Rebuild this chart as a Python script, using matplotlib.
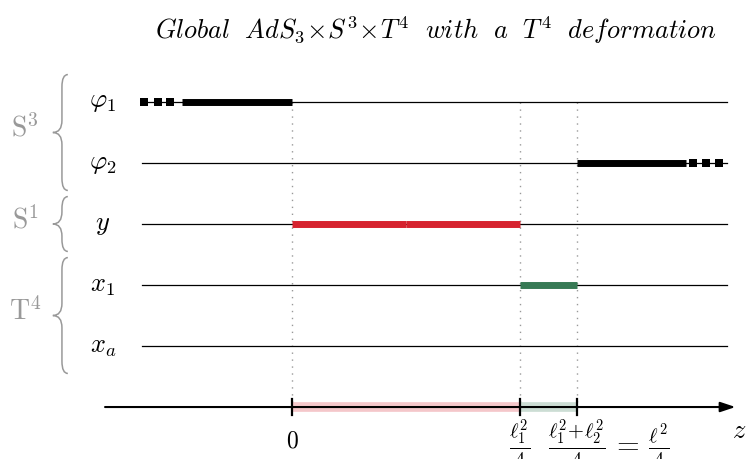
import numpy as np
import matplotlib.pyplot as plt
from matplotlib.path import Path
from matplotlib.patches import PathPatch

plt.rcParams['mathtext.fontset'] = 'cm'
plt.rcParams['font.family'] = 'DejaVu Serif'

# rows (top to bottom) and their field labels
fields = [r'$\varphi_1$', r'$\varphi_2$', r'$y$', r'$x_1$', r'$x_a$']
rows = [0, 1, 2, 3, 4]
axis_row = 5

# z positions of the brane boundaries
z_marks = [0.0, 1.0, 1.25]
z_labels = [r'$0$', r'$\frac{\ell_1^2}{4}$',
            r'$\frac{\ell_1^2\!+\!\ell_2^2}{4}\,=\,\frac{\ell^2}{4}$']
z_line = [-0.66, 1.91]

# thick segments: (row, z_start, z_end, colour)
segments = [
    (0, -0.482, 0.0, 'black'),
    (1, 1.25, 1.727, 'black'),
    (2, 0.0, 0.5, '#d6232f'),
    (2, 0.5, 1.0, '#d6232f'),
    (3, 1.0, 1.25, '#377a55'),
]
# square dots continuing the black segments: (row, z centres)
dots = [(0, [-0.647, -0.588, -0.533]), (1, [1.760, 1.816, 1.873])]

# groups: (label, first row, last row)
groups = [(r'$\mathrm{S}^3$', 0, 1), (r'$\mathrm{S}^1$', 2, 2), (r'$\mathrm{T}^4$', 3, 4)]

fig = plt.figure(figsize=(7.5, 4.59), dpi=100)
ax = fig.add_axes([0, 0, 1, 1])
ax.set_xlim(-1.2807, 2.0088)
ax.set_ylim(5.852, -1.672)
ax.axis('off')

# thin base lines
for r, lab in zip(rows, fields):
    ax.plot(z_line, [r, r], color='black', lw=0.9, zorder=2)
    ax.text(-0.83, r, lab, fontsize=19, ha='center', va='center')

# vertical dotted guides
for zm in z_marks:
    ax.plot([zm, zm], [0, axis_row], color='#999999', lw=1.0,
            linestyle=(0, (1, 4)), zorder=1)

# thick segments
for r, a, b, c in segments:
    ax.plot([a, b], [r, r], color=c, lw=5, solid_capstyle='butt', zorder=3)
for r, zs in dots:
    ax.plot(zs, [r] * len(zs), linestyle='none', marker='s', markersize=5.2,
            color='black', markeredgewidth=0, zorder=3)

# z axis with arrow
ax.annotate('', xy=(1.945, axis_row), xytext=(-0.82, axis_row),
            arrowprops=dict(arrowstyle='-|>,head_length=0.9,head_width=0.3',
                            color='black', lw=1.5, shrinkA=0, shrinkB=0))
ax.plot([0, 1], [axis_row, axis_row], color='#d6232f', lw=7, alpha=0.25,
        solid_capstyle='butt', zorder=1)
ax.plot([1, 1.25], [axis_row, axis_row], color='#377a55', lw=7, alpha=0.25,
        solid_capstyle='butt', zorder=1)
for zm in z_marks:
    ax.plot([zm, zm], [axis_row - 0.13, axis_row + 0.13], color='black', lw=1.6)
ax.text(0, axis_row + 0.56, z_labels[0], fontsize=17, ha='center', va='center')
ax.text(1.0, axis_row + 0.17, z_labels[1], fontsize=21, ha='center', va='top')
ax.text(1.39, axis_row + 0.17, z_labels[2], fontsize=21, ha='center', va='top')
ax.text(1.96, axis_row + 0.38, r'$z$', fontsize=19, ha='center', va='center')

# title
ax.text(0.63, -1.17, r'$Global\ \ AdS_3\!\times\! S^3\!\times\! T^4\ \ with\ \ a\ \ T^4\ \ deformation$',
        fontsize=19, ha='center', va='center')


def brace(ax, x, y0, y1, w_tip, w_end, h, color):
    # left-pointing curly brace between y0 (top) and y1 (bottom)
    ym = (y0 + y1) / 2
    verts = [
        (x + w_end, y0), (x, y0), (x, y0 + h),
        (x, ym - h), (x, ym), (x - w_tip, ym),
        (x, ym), (x, ym + h),
        (x, y1 - h), (x, y1), (x + w_end, y1),
    ]
    codes = [Path.MOVETO, Path.CURVE3, Path.CURVE3,
             Path.LINETO, Path.CURVE3, Path.CURVE3,
             Path.CURVE3, Path.CURVE3,
             Path.LINETO, Path.CURVE3, Path.CURVE3]
    ax.add_patch(PathPatch(Path(verts, codes), fill=False, edgecolor=color, lw=1.1))


for lab, r0, r1 in groups:
    brace(ax, -1.009, r0 - 0.45, r1 + 0.45, 0.04, 0.026, 0.2, '#999999')
    ax.text(-1.17, (r0 + r1) / 2 - 0.07, lab, fontsize=20, color='#999999',
            ha='center', va='center')

fig.savefig('out.png', dpi=100)
